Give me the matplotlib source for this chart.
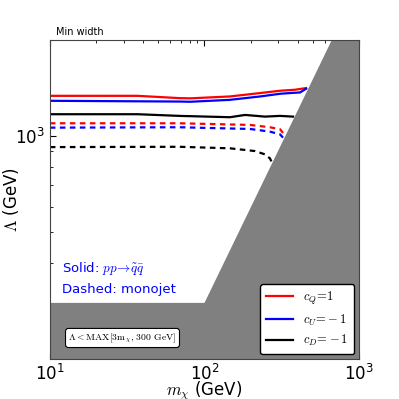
import matplotlib
matplotlib.use('Agg')
import matplotlib.pyplot as plt
from matplotlib.ticker import NullFormatter

plt.rcParams['mathtext.fontset'] = 'cm'

# solid lines: pp -> squark squark
m_red_s = [10, 37, 69, 81, 146, 229, 308, 385, 454]
lam_red_s = [1336, 1336, 1314, 1312, 1330, 1363, 1386, 1396, 1413]
m_blue_s = [10, 69, 81, 146, 229, 308, 357, 415, 454]
lam_blue_s = [1289, 1282, 1280, 1298, 1330, 1356, 1363, 1369, 1406]
m_black_s = [10, 37, 69, 146, 183, 246, 308, 374]
lam_black_s = [1170, 1170, 1156, 1145, 1164, 1150, 1156, 1150]

# dashed lines: monojet
m_red_d = [10, 69, 197, 265, 308, 322]
lam_red_d = [1096, 1096, 1083, 1065, 1050, 1022]
m_blue_d = [10, 69, 197, 265, 308, 322]
lam_blue_d = [1062, 1065, 1052, 1032, 1012, 988]
m_black_d = [10, 69, 146, 212, 246, 265, 273]
lam_black_d = [923, 925, 915, 897, 876, 851, 826]

# excluded region: Lambda < max(3 m, 300 GeV)
m_excl = [10, 100, 1000]
lam_excl = [300, 300, 3000]

labels = [r'$c_Q\!=\!1$', r'$c_U\!=\!-1$', r'$c_D\!=\!-1$']

fig = plt.figure(figsize=(3.99, 3.99), dpi=100)
ax = fig.add_axes([0.125, 0.1, 0.775, 0.8])

ax.fill_between(m_excl, 100, lam_excl, color='#808080', lw=0, zorder=3)

lw = 1.6
ax.plot(m_red_s, lam_red_s, color='red', lw=lw, label=labels[0])
ax.plot(m_blue_s, lam_blue_s, color='blue', lw=lw, label=labels[1])
ax.plot(m_black_s, lam_black_s, color='black', lw=lw, label=labels[2])
ax.plot(m_red_d, lam_red_d, color='red', lw=lw, ls=(0, (2.5, 2)))
ax.plot(m_blue_d, lam_blue_d, color='blue', lw=lw, ls=(0, (2.5, 2)))
ax.plot(m_black_d, lam_black_d, color='black', lw=lw, ls=(0, (2.5, 2)))

ax.set_xscale('log')
ax.set_yscale('log')
ax.set_xlim(10, 1000)
ax.set_ylim(200, 2000)
ax.yaxis.set_minor_formatter(NullFormatter())
ax.xaxis.set_minor_formatter(NullFormatter())

ax.tick_params(which='both', direction='in', top=True, right=True, labelsize=12)
ax.tick_params(which='major', length=4)
ax.tick_params(which='minor', length=2)
for s in ax.spines.values():
    s.set_color('#444444')
    s.set_zorder(5)

ax.set_xlabel(r'$m_\chi$ (GeV)', fontsize=12, labelpad=-3.5)
ax.set_ylabel(r'$\Lambda$ (GeV)', fontsize=12, labelpad=-4.5)

ax.text(0.02, 1.015, 'Min width', transform=ax.transAxes, fontsize=7)

ax.text(0.04, 0.273, r'Solid: $pp\!\rightarrow\!\tilde{q}\bar{q}$', transform=ax.transAxes,
        color='blue', fontsize=9.5, zorder=6)
ax.text(0.04, 0.207, 'Dashed: monojet', transform=ax.transAxes,
        color='blue', fontsize=9.5, zorder=6)

ax.text(0.06, 0.06, r'$\Lambda<\mathrm{MAX}[3\mathrm{m}_\chi,\,300\ \mathrm{GeV}]$',
        transform=ax.transAxes, fontsize=7, zorder=6,
        bbox=dict(boxstyle='round,pad=0.3', fc='white', ec='black', lw=0.8))

leg = ax.legend(loc='lower right', fontsize=9, frameon=True, handlelength=2.2,
                borderpad=0.45, labelspacing=0.45, fancybox=True,
                borderaxespad=0.4)
leg.get_frame().set_edgecolor('black')
leg.get_frame().set_alpha(1)
leg.set_zorder(6)

plt.savefig('out.png', dpi=100)
